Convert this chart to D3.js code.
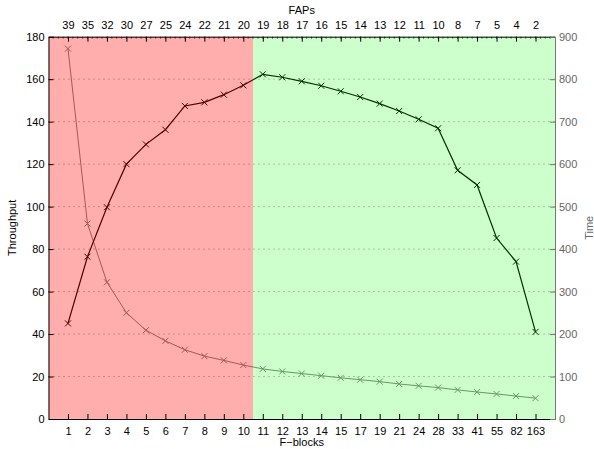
<!DOCTYPE html>
<html>
<head>
<meta charset="utf-8">
<script src="https://cdn.jsdelivr.net/npm/d3@7"></script>
<style>
body { margin: 0; background: #fff; }
svg text { font-family: "Liberation Sans", Arial, sans-serif; font-size: 11px; }
</style>
</head>
<body>
<div id="contents"></div>
<script>
var fblocks = ["1","2","3","4","5","6","7","8","9","10","11","12","13","14","15","17","19","21","24","28","33","41","55","82","163"];
var faps = ["39","35","32","30","27","25","24","22","21","20","19","18","17","16","15","14","13","12","11","10","8","7","5","4","2"];
var throughput = [45.0,76.4,99.7,120.0,129.3,136.2,147.4,149.1,152.7,157.1,162.3,160.9,159.0,156.9,154.3,151.6,148.5,145.0,141.1,136.9,117.1,110.2,85.2,74.1,41.0];
var time = [872,460,322,250,209,184,163,148,138,127,118,112,107,102,97,92.5,88,82.5,78,74,68.5,63.5,59,54,49];
var split = 10.5;

function drawChart(){
	var width = 594, height = 449;
	var margin = {top: 36.7, right: 39, bottom: 30, left: 48.5};
	var w = width - margin.left - margin.right, h = height - margin.top - margin.bottom;

	var canvas = d3.select("#contents").append("svg")
		.attr("width", width).attr("height", height);
	var chart = canvas.append("g")
		.attr("transform", "translate(" + margin.left + "," + margin.top + ")");

	var x = d3.scaleLinear().domain([0, fblocks.length + 1]).range([0, w]);
	var y = d3.scaleLinear().domain([0, 180]).range([h, 0]);
	var y2 = d3.scaleLinear().domain([0, 900]).range([h, 0]);
	var idx = d3.range(1, fblocks.length + 1);

	// grid
	chart.append("g").selectAll("line")
		.data(y.ticks(9).slice(1, -1))
		.enter().append("line")
		.attr("x1", 0).attr("x2", w)
		.attr("y1", function(d){ return y(d); })
		.attr("y2", function(d){ return y(d); })
		.attr("stroke", "#666").attr("stroke-width", 0.8)
		.attr("stroke-dasharray", "1,4");

	// time series (right axis)
	chart.append("path")
		.datum(time)
		.attr("fill", "none").attr("stroke", "#808080").attr("stroke-width", 1)
		.attr("d", d3.line()
			.x(function(d, i){ return x(i + 1); })
			.y(function(d){ return y2(d); }));

	// throughput
	chart.append("path")
		.datum(throughput)
		.attr("fill", "none").attr("stroke", "#000").attr("stroke-width", 1.2)
		.attr("d", d3.line()
			.x(function(d, i){ return x(i + 1); })
			.y(function(d){ return y(d); }));

	function cross(g, data, sc, color){
		g.selectAll("path.m").data(data).enter().append("path")
			.attr("class", "m")
			.attr("d", function(d, i){
				var cx = x(i + 1), cy = sc(d), r = 3;
				return "M" + (cx - r) + "," + (cy - r) + "L" + (cx + r) + "," + (cy + r) +
					"M" + (cx - r) + "," + (cy + r) + "L" + (cx + r) + "," + (cy - r);
			})
			.attr("stroke", color).attr("stroke-width", 1);
	}
	cross(chart.append("g"), time, y2, "#808080");
	cross(chart.append("g"), throughput, y, "#000");

	// coloured regions laid over the lines
	chart.append("rect")
		.attr("x", 0).attr("y", 0).attr("width", x(split)).attr("height", h)
		.attr("fill", "rgb(255,0,0)").attr("fill-opacity", 0.32);
	chart.append("rect")
		.attr("x", x(split)).attr("y", 0).attr("width", w - x(split)).attr("height", h)
		.attr("fill", "rgb(0,255,0)").attr("fill-opacity", 0.2);

	// axes
	var axBottom = chart.append("g").attr("transform", "translate(0," + h + ")")
		.call(d3.axisBottom(x).tickValues(idx).tickFormat(function(d){ return fblocks[d - 1]; })
			.tickSizeInner(-5).tickSizeOuter(0).tickPadding(8));
	var axTop = chart.append("g")
		.call(d3.axisTop(x).tickValues(idx).tickFormat(function(d){ return faps[d - 1]; })
			.tickSizeInner(-5).tickSizeOuter(0).tickPadding(8));
	chart.append("g").selectAll("line")
		.data(d3.range(0.25, fblocks.length + 1, 0.25))
		.enter().append("line")
		.attr("x1", function(d){ return x(d); }).attr("x2", function(d){ return x(d); })
		.attr("y1", 0).attr("y2", 2)
		.attr("stroke", "#000").attr("stroke-width", 0.6);
	var axLeft = chart.append("g")
		.call(d3.axisLeft(y).ticks(9).tickSizeInner(-5).tickSizeOuter(0).tickPadding(4));
	var axRight = chart.append("g").attr("transform", "translate(" + w + ",0)")
		.call(d3.axisRight(y2).ticks(9).tickSizeInner(-5).tickSizeOuter(0).tickPadding(4));

	[axBottom, axTop, axLeft, axRight].forEach(function(a){
		a.attr("font-family", null).attr("font-size", null);
		a.selectAll("text").attr("fill", "#000");
		a.selectAll("line,path").attr("stroke", "#000");
	});
	axRight.selectAll("text").attr("fill", "#666");
	axRight.selectAll("line,path").attr("stroke", "#777");

	// axis titles
	chart.append("text").attr("x", w / 2).attr("y", h + 27).attr("text-anchor", "middle").text("F\u2212blocks");
	chart.append("text").attr("x", w / 2).attr("y", -23).attr("text-anchor", "middle").text("FAPs");
	chart.append("text").attr("transform", "translate(-33," + (h / 2) + ") rotate(-90)")
		.attr("text-anchor", "middle").text("Throughput");
	chart.append("text").attr("transform", "translate(" + (w + 38) + "," + (h / 2) + ") rotate(-90)")
		.attr("text-anchor", "middle").attr("fill", "#666").text("Time");
}
drawChart();
</script>
</body>
</html>
